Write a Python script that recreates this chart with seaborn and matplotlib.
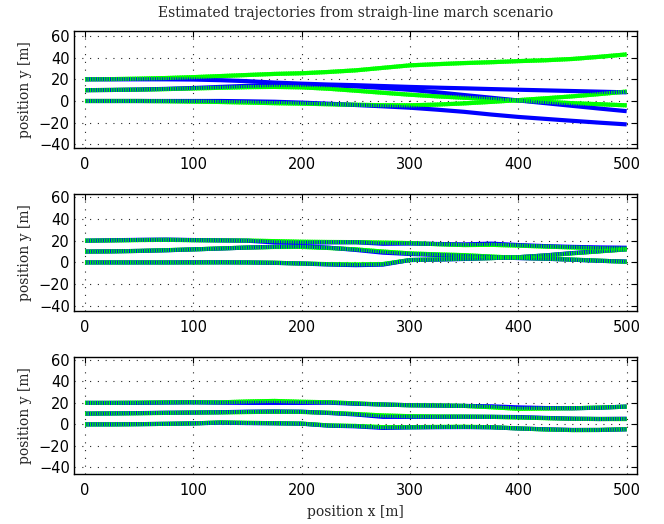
import matplotlib
matplotlib.use("Agg")
import matplotlib.pyplot as plt
import seaborn as sns
import pandas as pd

# ---------------------------------------------------------------- data
x_pos = [0, 25, 50, 75, 100, 125, 150, 175, 200, 225, 250,
         275, 300, 325, 350, 375, 400, 425, 450, 475, 500]

# panel 1
p1_blue_a = [20, 20, 20, 20, 19.8, 19.2, 18.3, 17, 16, 15.2, 14.6,
             13.8, 13, 12.3, 11.7, 11, 10.4, 9.8, 9.2, 8.6, 8]
p1_blue_b = [10, 10.2, 10.6, 11.2, 12, 13, 14, 15, 15, 14.5, 13.5,
             12, 10.3, 8, 5.5, 3, 0.5, -2, -4.5, -7, -9.4]
p1_blue_c = [0, 0, 0, 0, 0, 0, -0.3, -0.7, -1.5, -2.5, -3.7,
             -4.9, -6.2, -8, -10, -12.5, -14.7, -16.5, -18.3, -20, -21.6]
p1_green_a = [20, 20.2, 20.6, 21.2, 22, 23, 24, 25, 25.6, 26.8, 28.3,
              30.6, 32.9, 34, 35, 35.8, 36.8, 37.6, 38.8, 40.8, 43]
p1_green_b = [10, 10.2, 10.5, 11, 11.6, 12.2, 12.8, 13, 12.6, 11.3, 9.5,
              7.6, 5.8, 4.3, 3, 1.7, 0.4, -0.8, -2, -3, -4]
p1_green_c = [0, 0, 0, -0.2, -0.5, -0.9, -1.4, -2, -2.4, -3, -3.5,
              -3.9, -4, -3.3, -2.2, -0.8, 0.8, 2.5, 4.3, 6.4, 8.7]

# panel 2
p2_blue_a = [20, 20.4, 20.8, 21, 20.6, 20.3, 20, 18.4, 18.1, 18.5, 18.6,
             17.2, 17.4, 17, 16.6, 17.3, 16, 15, 14.3, 13.8, 13.5]
p2_blue_b = [10, 10.2, 10.6, 11.2, 12, 12.8, 13.7, 14.4, 14.9, 13.6, 11.5,
             9, 7.8, 6.9, 6, 5, 4, 3.4, 2.5, 1.5, 0.8]
p2_blue_c = [0, 0, 0, 0, 0.1, 0.1, 0, -0.4, -1, -1.9, -2.5,
             -2, 2.2, 2.6, 3.2, 4, 4.8, 6.5, 8.6, 10.4, 12.1]
p2_green_a = [20, 20.3, 20.6, 20.8, 20.5, 20.3, 20.1, 19.6, 19, 18.8, 18.7,
              18.2, 17.8, 16.8, 16, 16.2, 15.5, 14.6, 13.8, 13, 12.7]
p2_green_b = [10, 10.2, 10.6, 11.3, 12, 12.9, 13.7, 14.2, 14.3, 13.3, 12,
              10, 8.3, 7.4, 6.7, 5.4, 4.2, 3.5, 2.6, 1.6, 0.6]
p2_green_c = [0, 0, 0, 0, 0, 0.1, 0, -0.3, -1, -1.6, -1.9,
              -1.5, 2.2, 2.8, 3.4, 4, 4.8, 6.4, 8.4, 10.2, 12]

# panel 3
p3_blue_a = [20, 20, 20, 20.3, 20.5, 20.2, 20, 20, 20, 20.2, 19.2,
             18.5, 17.8, 17.5, 17.2, 16.8, 15.8, 15.2, 15, 15.5, 16.6]
p3_blue_b = [10, 10.2, 10.5, 10.8, 11, 11.3, 11.8, 12, 11.8, 10.6, 9.2,
             7, 7, 7, 7.1, 7, 6.8, 6, 5.3, 5, 5.2]
p3_blue_c = [0, 0, 0.2, 0.5, 0.9, 1.6, 1.2, 1, 0.6, -1.2, -1.8,
             -3.3, -2.8, -2.6, -2.5, -2.7, -3.8, -4.6, -5.2, -5.2, -4.6]
p3_green_a = [20, 20, 20.2, 20.5, 20.6, 20.5, 21.3, 21.8, 21, 20.6, 19.5,
              18.5, 17.8, 17.6, 17.2, 16, 14.5, 14.8, 15, 15.6, 16.5]
p3_green_b = [10, 10.2, 10.4, 10.7, 11, 11.2, 11.5, 11.8, 11.6, 10.8, 9.6,
              8.3, 7.6, 7.3, 7.2, 7, 6.5, 5.8, 5.2, 5, 5]
p3_green_c = [0, 0, 0.2, 0.5, 0.9, 1.8, 1.4, 1.1, 0.7, -1, -1.5,
              -2.6, -2.6, -2.4, -2.3, -2.6, -3.8, -4.7, -5.3, -5.2, -4.5]

x_ticks = [0, 100, 200, 300, 400, 500]
y_ticks = [-40, -20, 0, 20, 40, 60]

title_text = "Estimated trajectories from straigh-line march scenario"
xlabel_text = "position x [m]"
ylabel_text = "position y [m]"

panels = [
    ([p1_blue_a, p1_blue_b, p1_blue_c], [p1_green_a, p1_green_b, p1_green_c]),
    ([p2_blue_a, p2_blue_b, p2_blue_c], [p2_green_a, p2_green_b, p2_green_c]),
    ([p3_blue_a, p3_blue_b, p3_blue_c], [p3_green_a, p3_green_b, p3_green_c]),
]

# ---------------------------------------------------------------- style
sns.set_style("white")
plt.rcParams["font.family"] = ["DejaVu Sans"]
plt.rcParams["lines.scale_dashes"] = False
plt.rcParams["lines.solid_capstyle"] = "butt"
plt.rcParams["axes.unicode_minus"] = True

BLUE = "#0000ff"
GREEN = "#00ff00"
LW = 3.0

W, H = 664, 524
fig = plt.figure(figsize=(W / 100, H / 100), dpi=100)

left_px, right_px = 74, 637.3
# (top, bottom) in pixels and y-limits for each panel
frames = [(31.0, 147.7, (-43.1, 64.6)),
          (194.3, 310.9, (-44.6, 62.7)),
          (356.7, 474.0, (-46.2, 63.0))]

axes = []
for (top_px, bot_px, ylim), (blues, greens) in zip(frames, panels):
    ax = fig.add_axes([left_px / W, 1 - bot_px / H,
                       (right_px - left_px) / W, (bot_px - top_px) / H])
    axes.append(ax)

    for g in greens:
        sns.lineplot(x=x_pos, y=g, ax=ax, color=GREEN, lw=LW,
                     sort=False, estimator=None, zorder=3,
                     solid_capstyle="butt")
    for b in blues:
        sns.lineplot(x=x_pos, y=b, ax=ax, color=BLUE, lw=LW,
                     sort=False, estimator=None, zorder=4,
                     solid_capstyle="butt")
    # interleave the green estimate over the blue where they coincide
    for g in greens:
        sns.lineplot(x=x_pos, y=g, ax=ax, color=GREEN, lw=LW,
                     sort=False, estimator=None, zorder=5,
                     linestyle=(0, (1.0, 0.7)), dash_capstyle="butt")

    ax.set_xlim(-10.2, 509.8)
    ax.set_ylim(*ylim)
    ax.set_xticks(x_ticks)
    ax.set_yticks(y_ticks)
    ax.set_xticklabels([str(v) for v in x_ticks])
    ax.set_yticklabels(["\u2212" + str(-v) if v < 0 else str(v) for v in y_ticks])
    ax.grid(True, color="0.15", linestyle=(0, (0.8, 4.8)), linewidth=0.8)
    ax.set_axisbelow(True)
    ax.tick_params(direction="in", length=4, width=0.8, top=True, right=True,
                   labelsize=10.5, colors="black")
    ax.tick_params(axis="x", pad=6.5)
    ax.tick_params(axis="y", pad=3)
    for s in ax.spines.values():
        s.set_visible(True)
        s.set_color("black")
        s.set_linewidth(1.0)
    ax.set_ylabel(ylabel_text, family="DejaVu Serif", fontsize=10,
                  va="center", ha="center")
    ax.yaxis.set_label_coords((25 - left_px) / (right_px - left_px), 0.5)
    ax.set_xlabel("")

axes[-1].set_xlabel(xlabel_text, family="DejaVu Serif", fontsize=10,
                    va="center", ha="center")
axes[-1].xaxis.set_label_coords(0.5, -(511.7 - 474.0) / (474.0 - 356.7))

fig.text((left_px + right_px) / 2 / W, 1 - 13.3 / H, title_text,
         family="DejaVu Serif", fontsize=10, ha="center", va="center")

fig.savefig("out.png", dpi=100)
